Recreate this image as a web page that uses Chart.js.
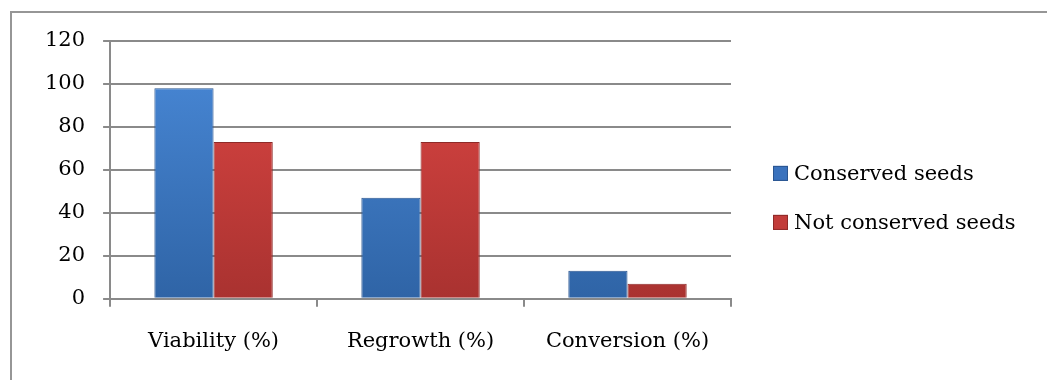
<!DOCTYPE html>
<html><head><meta charset="utf-8">
<script src="https://cdn.jsdelivr.net/npm/chart.js@4/dist/chart.umd.min.js"></script>
<style>
html,body{margin:0;padding:0;background:#fff;}
#wrap{position:relative;width:1047px;height:380px;overflow:hidden;}
#frame{position:absolute;left:10px;top:11px;right:-5px;bottom:-5px;border-left:2px solid #969696;border-top:2px solid #969696;pointer-events:none}
</style></head><body>
<div id="wrap"><canvas id="c" width="1047" height="380"></canvas><div id="frame"></div></div>
<script>
const categories = ['Viability (%)', 'Regrowth (%)', 'Conversion (%)'];
const seriesNames = ['Conserved seeds', 'Not conserved seeds'];
const conservedSeeds = [98, 47, 13];
const notConservedSeeds = [73, 73, 7];
const yMin = 0, yMax = 120, yStep = 20;

function grad(top, bottom) {
  return function (ctx) {
    const chart = ctx.chart;
    const a = chart.chartArea;
    if (!a) return top;
    const g = chart.ctx.createLinearGradient(0, a.top, 0, a.bottom);
    g.addColorStop(0, top);
    g.addColorStop(1, bottom);
    return g;
  };
}
const FONT = 'DejaVu Serif';
const FS = 21;

const sideLegend = {
  id: 'sideLegend',
  afterDraw(chart) {
    const ctx = chart.ctx;
    const a = chart.chartArea;
    const x = a.right + 42;
    const mid = (a.top + a.bottom) / 2 + 28;
    const gap = 49;
    ctx.save();
    ctx.font = FS + 'px "' + FONT + '"';
    ctx.textBaseline = 'middle';
    ctx.textAlign = 'left';
    chart.data.datasets.forEach((ds, i) => {
      const cy = mid - gap / 2 + i * gap;
      ctx.fillStyle = ds.legendColor;
      ctx.fillRect(x, cy - 7.5, 15, 15);
      ctx.strokeStyle = ds.borderColor;
      ctx.lineWidth = 1;
      ctx.strokeRect(x + 0.5, cy - 7, 14, 14);
      ctx.fillStyle = '#000';
      ctx.fillText(ds.label, x + 21, cy + 1);
    });
    ctx.restore();
  }
};

new Chart(document.getElementById('c'), {
  type: 'bar',
  data: {
    labels: categories,
    datasets: [
      { label: seriesNames[0], data: conservedSeeds, backgroundColor: grad('#4a8ad9', '#2f64a6'), legendColor: '#3a72bd', borderColor: '#2a5590', borderWidth: 1, barPercentage: 1, categoryPercentage: 0.572 },
      { label: seriesNames[1], data: notConservedSeeds, backgroundColor: grad('#de4744', '#a93230'), legendColor: '#c23c3a', borderColor: '#8e2a28', borderWidth: 1, barPercentage: 1, categoryPercentage: 0.572 }
    ]
  },
  options: {
    responsive: false,
    animation: false,
    layout: { padding: { left: 27, top: 41, right: 316, bottom: 4 } },
    plugins: {
      tooltip: { enabled: false },
      legend: { display: false }
    },
    scales: {
      x: {
        offset: true,
        grid: { display: true, drawOnChartArea: false, tickLength: 8, color: '#8a8a8a', lineWidth: 2, offset: true },
        border: { display: true, color: '#8a8a8a', width: 2 },
        ticks: { font: { family: FONT, size: FS }, color: '#000', padding: 22 }
      },
      y: {
        min: yMin, max: yMax,
        ticks: { stepSize: yStep, font: { family: FONT, size: FS }, color: '#000', padding: 18 },
        grid: { color: '#8a8a8a', lineWidth: 2, tickLength: 7 },
        border: { display: true, color: '#8a8a8a', width: 2 }
      }
    }
  },
  plugins: [sideLegend]
});
</script>
</body></html>
